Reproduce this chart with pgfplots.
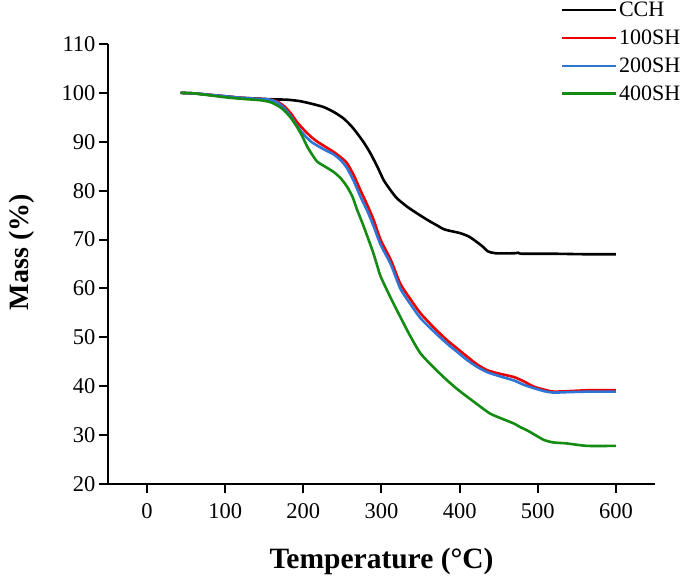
\documentclass[border=0pt]{standalone}
\usepackage{pgfplots}
\pgfplotsset{compat=1.18}
\usepackage{fontspec}
\setmainfont{Liberation Serif}
\definecolor{cred}{RGB}{235,0,0}
\definecolor{cblue}{RGB}{46,117,214}
\definecolor{cgreen}{RGB}{20,140,20}

\begin{document}
\begin{tikzpicture}
% frame of the whole figure, same as the reference page
\path (-108pt,-91pt) rectangle (577pt,484pt);
\begin{axis}[
    scale only axis,
    width=547pt, height=440pt,
    xmin=-50, xmax=650,
    ymin=20, ymax=110,
    xtick={0,100,...,600},
    ytick={20,30,...,110},
    axis x line*=bottom,
    axis y line*=left,
    axis line style={line width=2pt, -},
    tick style={line width=2pt, black},
    tick align=outside,
    major tick length=9pt,
    /pgf/number format/assume math mode=true,
    tick label style={font=\fontsize{22.5}{24}\selectfont},
    xticklabel style={yshift=-7pt},
    xlabel={\textbf{Temperature (°C)}},
    ylabel={\textbf{Mass (\%)}},
    every axis x label/.style={at={(axis description cs:0.5,-0.175)}, anchor=center,
        font=\fontsize{29.5}{32}\selectfont},
    every axis y label/.style={at={(axis description cs:-0.157,0.527)}, anchor=center,
        rotate=90, font=\fontsize{28}{32}\selectfont},
    legend style={draw=none, fill=none, inner sep=0pt, at={(axis description cs:0.827,1.10)},
        anchor=north west, font=\fontsize{22}{24}\selectfont, row sep=7.7pt},
    legend cell align=left,
    legend image code/.code={\draw[#1, line width=2.5pt] (0pt,0pt) -- (54pt,0pt);},
]

% CCH
\addplot[black, line width=2.6pt, smooth, tension=0.4] coordinates {
    (43,100.0) (60,99.9) (80,99.6) (100,99.3) (120,99.0) (140,98.85) (158,98.7)
    (180,98.6) (196,98.3) (210,97.8) (226,97.1) (240,96.0) (252,94.7) (262,93.1)
    (269,91.7) (278,89.7) (286,87.6) (295,84.8) (303,82.1) (312,80.0) (320,78.4)
    (333,76.7) (346,75.3) (360,73.9) (371,72.9) (380,72.1) (390,71.7) (401,71.3)
    (412,70.6) (422,69.5) (430,68.5) (436,67.6) (446,67.2) (470,67.2) (475,67.3)
    (480,67.1) (520,67.1) (560,67.0) (600,67.0)
};
\addlegendentry{CCH}

% 100SH
\addplot[cred, line width=2.6pt, smooth, tension=0.4] coordinates {
    (43,100.0) (60,99.9) (80,99.6) (100,99.3) (120,99.0) (140,98.8) (158,98.6)
    (167,98.2) (176,97.2) (184,95.8) (192,94.0) (201,92.4) (210,91.0) (218,90.0)
    (228,89.0) (239,87.9) (248,86.8) (256,85.6) (265,83.0) (273,80.1) (282,77.0)
    (290,74.0) (299,69.9) (312,65.8) (324,61.0) (337,57.8) (350,54.9) (367,52.0)
    (384,49.4) (397,47.7) (410,46.0) (422,44.5) (435,43.3) (450,42.6) (469,41.9)
    (482,41.0) (495,39.9) (508,39.3) (520,38.9) (540,39.0) (567,39.2) (600,39.2)
};
\addlegendentry{100SH}

% 200SH
\addplot[cblue, line width=2.6pt, smooth, tension=0.4] coordinates {
    (43,100.0) (60,99.9) (80,99.6) (100,99.3) (120,99.0) (140,98.8) (158,98.6)
    (167,98.0) (176,96.8) (184,95.2) (192,93.2) (201,91.4) (210,90.0) (218,89.2)
    (228,88.3) (239,87.4) (248,86.2) (256,84.6) (265,81.8) (273,78.8) (282,75.8)
    (290,72.7) (299,68.9) (312,64.9) (324,60.0) (337,56.8) (350,53.9) (367,51.2)
    (384,48.7) (397,47.0) (410,45.3) (422,44.0) (435,42.9) (450,42.1) (469,41.2)
    (482,40.3) (495,39.6) (508,39.0) (520,38.7) (540,38.8) (567,38.9) (600,38.9)
};
\addlegendentry{200SH}

% 400SH
\addplot[cgreen, line width=2.6pt, smooth, tension=0.4] coordinates {
    (43,100.0) (60,99.9) (80,99.5) (100,99.1) (120,98.8) (145,98.5) (158,98.1)
    (167,97.4) (175,96.5) (184,94.9) (192,93.0) (199,91.0) (205,89.0) (212,87.2)
    (218,85.9) (228,84.9) (239,83.8) (248,82.5) (256,80.8) (263,78.7) (269,76.0)
    (276,73.2) (282,70.6) (289,67.5) (295,64.4) (299,62.4) (312,58.0) (324,54.2)
    (337,50.2) (350,46.7) (367,43.8) (384,41.2) (397,39.4) (410,37.8) (425,36.0)
    (439,34.4) (455,33.3) (469,32.4) (478,31.6) (486,31.0) (497,30.0) (508,29.0)
    (520,28.5) (537,28.3) (563,27.8) (600,27.8)
};
\addlegendentry{400SH}

\end{axis}
\end{tikzpicture}
\end{document}
